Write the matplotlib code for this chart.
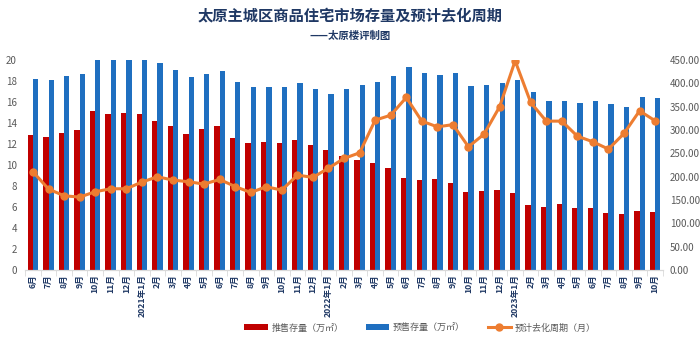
import matplotlib

matplotlib.use("Agg")
import matplotlib.pyplot as plt  # noqa: E402
import numpy as np  # noqa: E402

plt.rcParams["font.family"] = ["Noto Sans CJK SC", "DejaVu Sans"]

# 月份标签（2020年6月 - 2023年10月）
months = (
    ["6月", "7月", "8月", "9月", "10月", "11月", "12月"]
    + ["2021年1月"] + [f"{m}月" for m in range(2, 13)]
    + ["2022年1月"] + [f"{m}月" for m in range(2, 13)]
    + ["2023年1月"] + [f"{m}月" for m in range(2, 11)]
)

# 推售存量（万㎡）
pushed_stock = [
    12.9, 12.7, 13.1, 13.3, 15.2, 14.9, 15.0, 14.9, 14.2, 13.7,
    12.95, 13.4, 13.7, 12.6, 12.06, 12.16, 12.1, 12.44, 11.87, 11.4,
    10.9, 10.48, 10.2, 9.68, 8.8, 8.57, 8.63, 8.25, 7.46, 7.52,
    7.59, 7.37, 6.19, 5.97, 6.29, 5.94, 5.87, 5.46, 5.33, 5.65, 5.49,
]

# 预售存量（万㎡），部分超出坐标轴上限
presale_stock = [
    18.25, 18.1, 18.5, 18.7, 20.5, 20.5, 20.5, 20.5, 19.7, 19.05,
    18.35, 18.7, 19.0, 17.9, 17.46, 17.46, 17.4, 17.8, 17.24, 16.8,
    17.3, 17.65, 17.9, 18.5, 19.37, 18.76, 18.54, 18.8, 17.56, 17.62,
    17.87, 18.1, 16.92, 16.1, 16.1, 15.94, 16.1, 15.8, 15.56, 16.48, 16.35,
]

# 预计去化周期（月）
cycle = [
    210.7, 173.6, 159.3, 156.4, 167.9, 174.3, 174.3, 188.6, 200.0, 192.9,
    189.3, 184.3, 194.3, 179.0, 166.4, 178.6, 171.4, 203.6, 198.6, 218.6,
    239.3, 251.4, 321.4, 332.0, 370.0, 319.3, 307.0, 311.8, 264.3, 291.4,
    350.0, 448.6, 359.3, 319.3, 319.3, 287.0, 275.0, 259.3, 292.9, 341.4, 320.0,
]

red = "#C00000"
blue = "#1F6FC0"
orange = "#ED7D31"
navy = "#1F3864"
tick_gray = "#595959"

x = np.arange(len(months))
w = 0.34

fig = plt.figure(figsize=(7.0, 3.38), dpi=100)
ax = fig.add_axes([0.036, 0.201, 0.911, 0.621])
ax2 = ax.twinx()

b1 = ax.bar(x - w / 2, pushed_stock, width=w, color=red, label="推售存量（万㎡）")
b2 = ax.bar(x + w / 2, presale_stock, width=w, color=blue, label="预售存量（万㎡）")
ln, = ax2.plot(x, cycle, color=orange, linewidth=2.2, marker="o", markersize=5,
               label="预计去化周期（月）")

ax.set_xlim(-0.5, len(months) - 0.5)
ax.set_ylim(0, 20)
ax.set_yticks(range(0, 21, 2))
ax2.set_ylim(0, 450)
ax2.set_yticks(range(0, 451, 50))
ax2.set_yticklabels([f"{v:.2f}" for v in range(0, 451, 50)])

for a in (ax, ax2):
    for side in ("top", "left", "right"):
        a.spines[side].set_visible(False)
    a.spines["bottom"].set_color("#D9D9D9")
ax.tick_params(axis="y", length=0, labelsize=7, labelcolor=tick_gray, pad=6)
ax2.tick_params(axis="y", length=0, labelsize=7, labelcolor=tick_gray, pad=5)

ax.set_xticks(x)
ax.set_xticklabels(months, rotation=90, fontsize=6.2, color=navy, fontweight="bold")
ax.set_xticks(np.arange(-0.5, len(months), 1), minor=True)
ax.tick_params(axis="x", which="major", length=0, pad=3)
ax.tick_params(axis="x", which="minor", length=4, color="#D9D9D9")

fig.text(0.5, 0.955, "太原主城区商品住宅市场存量及预计去化周期", ha="center", va="center",
         fontsize=11, fontweight="bold", color=navy)
fig.text(0.5, 0.895, "——太原楼评制图", ha="center", va="center",
         fontsize=7.5, fontweight="bold", color=navy)

fig.legend(handles=[b1, b2, ln], loc="center", bbox_to_anchor=(0.6, 0.03), ncol=3,
           frameon=False, fontsize=6.5, labelcolor="#595959", handlelength=2.6,
           handleheight=0.6, columnspacing=2.5, handletextpad=0.4)

fig.savefig("out.png", dpi=100)
